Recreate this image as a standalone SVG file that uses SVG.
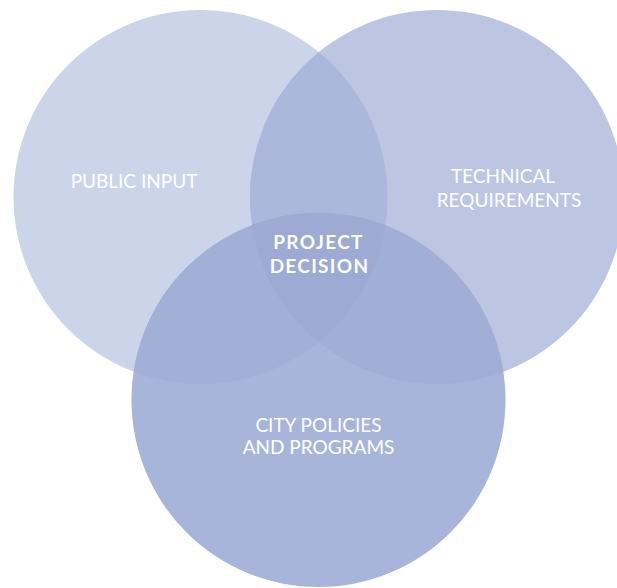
<svg xmlns="http://www.w3.org/2000/svg" width="617" height="588" viewBox="0 0 617 588">
<style>
.lbl{font-family:Lato,"Open Sans","Liberation Sans",sans-serif;font-size:19px;fill:#ffffff;text-anchor:middle}
.b{font-weight:700;letter-spacing:1.3px}
</style>
<defs>
<clipPath id="clipL"><circle cx="200.5" cy="197" r="187"/></clipPath>
<clipPath id="clipR"><circle cx="437" cy="197" r="187"/></clipPath>
</defs>
<g id="public-input">
<circle cx="200.5" cy="197" r="187" fill="#CBD4E9"/>
</g>
<g id="technical-requirements">
<circle cx="437" cy="197" r="187" fill="#BCC6E3"/>
<circle cx="437" cy="197" r="187" fill="#ABB7DB" clip-path="url(#clipL)"/>
</g>
<g id="city-policies">
<circle cx="318.5" cy="400" r="187" fill="#A8B5DA"/>
<circle cx="318.5" cy="400" r="187" fill="#A2AFD7" clip-path="url(#clipL)"/>
<circle cx="318.5" cy="400" r="187" fill="#A1AED6" clip-path="url(#clipR)"/>
<g clip-path="url(#clipL)"><circle cx="318.5" cy="400" r="187" fill="#9CAAD4" clip-path="url(#clipR)"/></g>
</g>
<g id="labels">
<text class="lbl" x="134" y="188">PUBLIC INPUT</text>
<text class="lbl" x="503" y="183">TECHNICAL</text>
<text class="lbl" x="509" y="207">REQUIREMENTS</text>
<text class="lbl" x="318.5" y="432">CITY POLICIES</text>
<text class="lbl" x="318.5" y="454">AND PROGRAMS</text>
</g>
<g id="project-decision">
<text class="lbl b" x="318.5" y="249">PROJECT</text>
<text class="lbl b" x="319.5" y="273">DECISION</text>
</g>
<g id="connectors"></g>
</svg>
